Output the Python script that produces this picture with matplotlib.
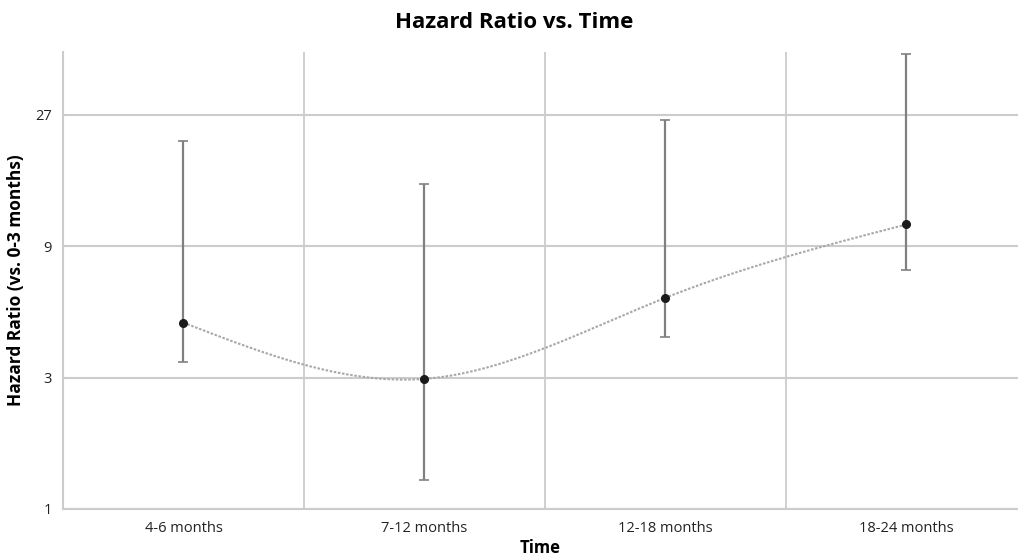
import numpy as np
import matplotlib.pyplot as plt
from matplotlib.ticker import FixedLocator, NullFormatter

# valeurs
categories = ["4-6 months", "7-12 months", "12-18 months", "18-24 months"]
hazard_ratio = [4.75, 2.97, 5.85, 10.8]
ci_lower = [3.42, 1.27, 4.22, 7.4]
ci_upper = [21.7, 15.1, 25.8, 45.0]
y_ticks = [1, 3, 9, 27]


def natural_spline(x, y, n=200):
    # spline cubique naturelle, juste pour tracer la courbe lissée
    x = np.asarray(x, float)
    y = np.asarray(y, float)
    k = len(x)
    h = np.diff(x)
    A = np.zeros((k, k))
    b = np.zeros(k)
    A[0, 0] = A[-1, -1] = 1
    for i in range(1, k - 1):
        A[i, i - 1] = h[i - 1]
        A[i, i] = 2 * (h[i - 1] + h[i])
        A[i, i + 1] = h[i]
        b[i] = 6 * ((y[i + 1] - y[i]) / h[i] - (y[i] - y[i - 1]) / h[i - 1])
    M = np.linalg.solve(A, b)
    xs = np.linspace(x[0], x[-1], n)
    ys = np.empty_like(xs)
    for j, t in enumerate(xs):
        i = min(np.searchsorted(x, t, side="right") - 1, k - 2)
        a, c = x[i], x[i + 1]
        ys[j] = (M[i] * (c - t) ** 3 / (6 * h[i]) + M[i + 1] * (t - a) ** 3 / (6 * h[i])
                 + (y[i] / h[i] - M[i] * h[i] / 6) * (c - t)
                 + (y[i + 1] / h[i] - M[i + 1] * h[i] / 6) * (t - a))
    return xs, ys


font = "Open Sans"
fig = plt.figure(figsize=(10.18, 5.56), dpi=100)
ax = fig.add_axes([63 / 1018, 1 - 509 / 556, 1 - 63 / 1018, (509 - 52) / 556])

x = np.arange(len(categories))
hr = np.array(hazard_ratio)

xs, ys = natural_spline(x, np.log(hr))
ax.plot(xs, np.exp(ys), color="#a8a8a8", lw=1.5, ls=(0, (1.2, 0.8)), zorder=2)

ax.errorbar(x, hr, yerr=[hr - np.array(ci_lower), np.array(ci_upper) - hr],
            fmt="none", ecolor="#808080", elinewidth=1.6, capsize=3.5, capthick=1.2, zorder=3)
ax.plot(x, hr, "o", color="#1a1a1a", ms=5.5, zorder=4)

ax.set_yscale("log")
ax.set_ylim(1, 45.7)
ax.set_xlim(-0.5, 3.463)
ax.yaxis.set_major_locator(FixedLocator(y_ticks))
ax.yaxis.set_minor_locator(FixedLocator([]))
ax.set_yticklabels([str(v) for v in y_ticks], fontsize=10.5, family=font, color="#222222")
ax.set_xticks(x)
ax.set_xticklabels(categories, fontsize=10.5, family=font, color="#222222")
ax.xaxis.set_minor_locator(FixedLocator([-0.5, 0.5, 1.5, 2.5]))
ax.xaxis.set_minor_formatter(NullFormatter())

ax.tick_params(which="both", length=0)
ax.tick_params(axis="x", pad=9)
ax.tick_params(axis="y", pad=8)
ax.grid(axis="y", which="major", color="#cccccc", lw=1.5)
ax.grid(axis="x", which="minor", color="#cccccc", lw=1.3)
ax.set_axisbelow(True)
for side in ["top", "right"]:
    ax.spines[side].set_visible(False)
for side in ["left", "bottom"]:
    ax.spines[side].set_color("#cccccc")
    ax.spines[side].set_linewidth(1.5)

ax.set_xlabel("Time", fontsize=12, fontweight="bold", family=font, labelpad=2)
ax.set_ylabel("Hazard Ratio (vs. 0-3 months)", fontsize=12.5, fontweight="bold", family=font, labelpad=7)
fig.text(0.5 + 5 / 1018, 1 - 23 / 556, "Hazard Ratio vs. Time", ha="center", va="center",
         fontsize=16, fontweight="bold", family=font)

fig.savefig("out.png", dpi=100)
